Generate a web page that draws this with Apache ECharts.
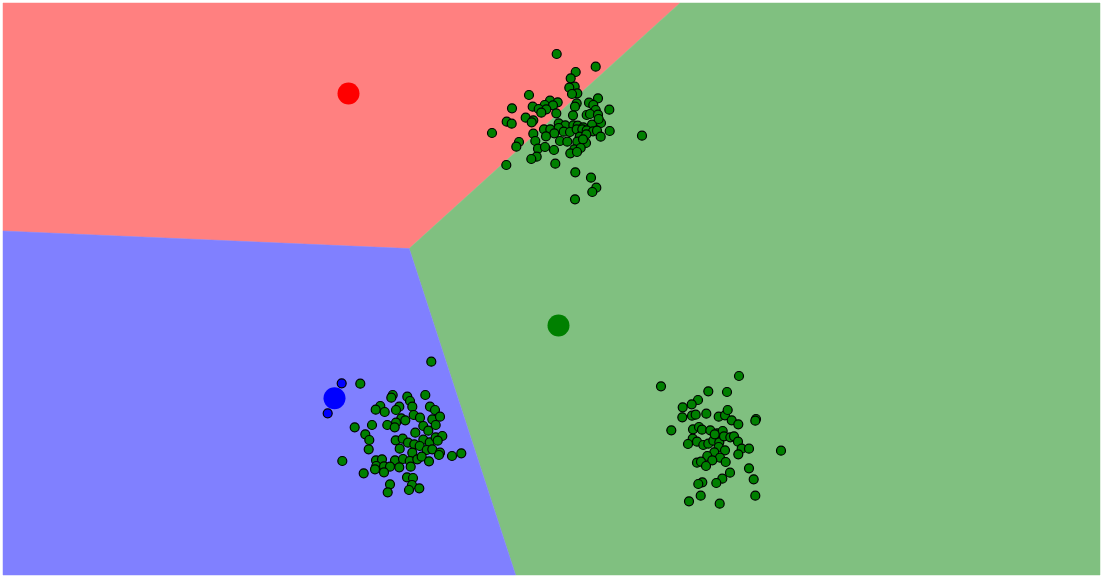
<!DOCTYPE html>
<html>
<head>
<meta charset="utf-8">
<script src="https://cdn.jsdelivr.net/npm/echarts@6/dist/echarts.min.js"></script>
<style>html,body{margin:0;padding:0;background:#fff}#c{width:1103px;height:578px}</style>
</head>
<body>
<div id="c"></div>
<script>
// Centroids (data units)
const centroidRed = [[348.5, 93.5]];
const centroidGreen = [[558.5, 325.5]];
const centroidBlue = [[334.5, 398.3]];

// Voronoi regions (polygon vertices in data units)
const regionRed = [[3,3],[680,3],[409.2,248.6],[3,231]];
const regionGreen = [[680,3],[1100,3],[1100,575],[515.6,575],[409.2,248.6]];
const regionBlue = [[3,231],[409.2,248.6],[515.6,575],[3,575]];

// Points coloured blue
const pointsBlue = [[341.7,383.3],[327.7,413.3]];

// Points coloured green (three clusters)
const cluster1 = [
[556.7,54],[595.7,66.7],[575.7,72],[570.7,78.3],[574.7,86.7],[569.3,87.7],[577.3,93.3],[572,94],
[529,95],[598,98.3],[512,108.3],[550,100.7],[557.7,102.3],[544.7,105],[553,105.3],[532.7,106.7],
[538.7,109],[546.3,109.3],[541.3,112.7],[556.3,113.3],[576.7,103.3],[575,106.7],[589,102.7],[593.3,105],
[595.7,110],[609.3,109.7],[573,115.3],[586.7,115],[590,114],[598,114.7],[525.7,117.7],[506.7,121.7],
[511.7,123.7],[533.3,120.3],[531.7,122.3],[492,133],[558.7,123.3],[565.3,125.3],[573.3,125.3],[577.7,125.7],
[583.3,127.3],[592,124.7],[601,123],[598.7,119],[544,129.3],[550.3,129.3],[558.7,128],[563.7,131.7],
[570,132],[576.7,129.3],[582.3,129.3],[586.7,130.3],[593,131.3],[597,130.7],[609.7,131],[533.3,133.7],
[554.3,133.3],[546,136.3],[579.7,136.7],[586.3,134.3],[600.7,136.7],[642,135.7],[535.3,141],[560,141],
[567.3,141.7],[577.3,141.7],[586,143],[583,139.3],[519,142],[516.3,146.7],[538,148.7],[545,147],
[554,150],[574.3,149.3],[580.7,148],[570.3,153.3],[577,152],[536.7,156.7],[531.3,159],[506.3,165],
[555.3,163.7],[575.3,172.3],[591,177.7],[596.3,187.7],[592.3,192],[575,199.3]
];
const cluster2 = [
[431.3,361.7],[360.3,383.7],[392.7,395],[391.3,397.7],[407.3,396.7],[425.3,395],[410,401],[380.3,406],
[375.7,409.7],[384.7,412],[399.3,406.7],[396,410],[412.3,406.7],[430,406.7],[435,410],[413.7,415],
[401.3,418.3],[405.3,420.3],[420,417.7],[432.3,419.3],[440,416.7],[354.7,427.3],[372,425],[387.3,425],
[396,422.7],[394.7,427.3],[423.3,426],[435.7,425],[365.3,434.3],[415.3,432.7],[428.3,430.7],[369.3,440],
[395.7,440.3],[402.7,438.7],[408,442.7],[414.3,444.3],[423.3,439.7],[429.7,442.3],[435.7,437.3],[442.3,436],
[437.7,440.7],[368.7,449.3],[399.7,448.7],[419.7,446],[426.7,450],[432.3,449.3],[412.3,452.7],[440,452.7],
[439,455],[452,456],[461.3,453.3],[342.3,461],[376,460.3],[382,459.3],[395,460.3],[403,459],
[409.7,461],[417.3,459.3],[421.7,456.7],[429,461.3],[376.3,466],[375,469.3],[384,466.3],[390,466.7],
[399.3,467.3],[410.7,466.7],[384,472.3],[363.7,473.3],[407,477.3],[413,478],[390,484.3],[412,485],
[419.3,488.3],[409,490],[387.7,492.3]
];
const cluster3 = [
[739,376],[661,386.3],[708.3,391.3],[727,392],[698,400],[691.7,404.3],[682.7,407.3],[682.3,417.3],
[692,415.7],[695.7,414.7],[706.3,413.7],[718.7,416.7],[725,415.3],[727.7,410],[731.7,420.3],[738.3,424.3],
[756,419],[755.3,420.7],[671.3,430.3],[693,429.3],[699,427],[702,429.7],[710.3,430.3],[717.3,433.3],
[722.7,431],[692.7,438.7],[688,444],[697,441.7],[703.3,445],[708.3,443.7],[713.3,440.7],[719.3,442.3],
[724,436.3],[730.3,437.3],[734,436.3],[738,441.7],[741.7,448.7],[749,448.7],[781,450.7],[718.7,447],
[725,450.3],[714.3,452.3],[738.3,454.3],[707.3,456],[720,457.7],[712.3,460.3],[697,462.7],[701,461.7],
[706,466],[725.7,462],[730,472.7],[749,468.3],[722.3,478.7],[716.3,483],[753.7,479.3],[702.3,482.3],
[698.3,484],[700.7,495.7],[755.3,495.7],[689,501.3],[719.7,503.7],[714.7,434.3]
];

const regions = [regionRed, regionGreen, regionBlue];
const regionColors = ['#ff8080', '#80c080', '#8080ff'];

const chart = echarts.init(document.getElementById('c'), null, {renderer: 'canvas'});
const pointStyle = {color: '#008000', borderColor: '#000', borderWidth: 1.2, opacity: 1};
chart.setOption({
  animation: false,
  backgroundColor: '#ffffff',
  grid: {left: 3, top: 3, right: 3, bottom: 3},
  xAxis: {type: 'value', min: 3, max: 1100, show: false},
  yAxis: {type: 'value', min: 3, max: 575, inverse: true, show: false},
  series: [
    {
      type: 'custom',
      silent: true,
      data: regions.map((r, i) => [i]),
      encode: {x: -1, y: -1},
      renderItem: function (params, api) {
        const idx = api.value(0);
        const pts = regions[idx].map(p => api.coord(p));
        return {type: 'polygon', shape: {points: pts}, style: {fill: regionColors[idx], stroke: regionColors[idx], lineWidth: 0.5}};
      },
      z: 1
    },
    {type: 'scatter', data: cluster1, symbolSize: 9, itemStyle: pointStyle, z: 3},
    {type: 'scatter', data: cluster2, symbolSize: 9, itemStyle: pointStyle, z: 3},
    {type: 'scatter', data: cluster3, symbolSize: 9, itemStyle: pointStyle, z: 3},
    {type: 'scatter', data: pointsBlue, symbolSize: 9, itemStyle: {color: '#0000ff', borderColor: '#000', borderWidth: 1.2, opacity: 1}, z: 3},
    {type: 'scatter', data: centroidRed, symbolSize: 22, itemStyle: {color: '#ff0000', opacity: 1}, z: 4},
    {type: 'scatter', data: centroidGreen, symbolSize: 22, itemStyle: {color: '#008000', opacity: 1}, z: 4},
    {type: 'scatter', data: centroidBlue, symbolSize: 22, itemStyle: {color: '#0000ff', opacity: 1}, z: 4}
  ]
});
</script>
</body>
</html>
